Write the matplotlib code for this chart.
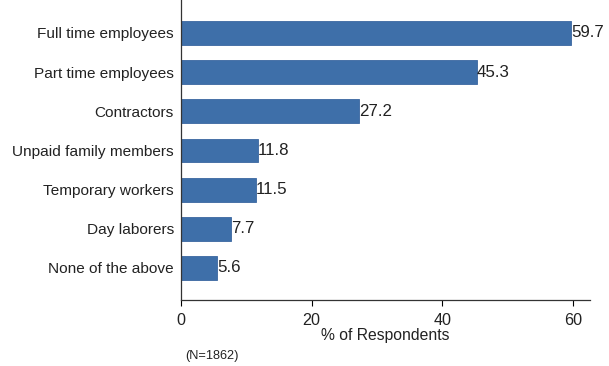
import matplotlib.pyplot as plt

plt.rcParams['font.family'] = ['Liberation Sans', 'DejaVu Sans']

categories = ['Full time employees', 'Part time employees', 'Contractors',
              'Unpaid family members', 'Temporary workers', 'Day laborers',
              'None of the above']
values = [59.7, 45.3, 27.2, 11.8, 11.5, 7.7, 5.6]

fig = plt.figure(figsize=(6.09, 3.66), dpi=100)
ax = fig.add_axes([0.297, 0.18, 0.672, 0.82])

pos = range(len(categories))
ax.barh(pos, values, height=0.61, color='#3e6fa9', edgecolor='#3a66a0', linewidth=0.6)
for p, v in zip(pos, values):
    ax.text(v, p, '%.1f' % v, va='center', ha='left', fontsize=12.2, color='#222222')

ax.set_yticks(list(pos))
ax.set_yticklabels(categories, fontsize=11.1, color='#222222')
ax.tick_params(axis='y', length=0, pad=5)
ax.set_ylim(6.82, -0.84)
ax.set_xlim(0, 62.6)
ax.set_xticks([0, 20, 40, 60])
ax.tick_params(axis='x', labelsize=11.6, length=4, pad=5, labelcolor='#222222')
ax.set_xlabel('% of Respondents', fontsize=11.3, color='#222222', labelpad=0)

for s in ['top', 'right']:
    ax.spines[s].set_visible(False)
for s in ['left', 'bottom']:
    ax.spines[s].set_color('#333333')
    ax.spines[s].set_linewidth(0.9)

fig.text(0.304, 0.02, '(N=1862)', fontsize=9.2, color='#222222')

fig.savefig('out.png', dpi=100)
